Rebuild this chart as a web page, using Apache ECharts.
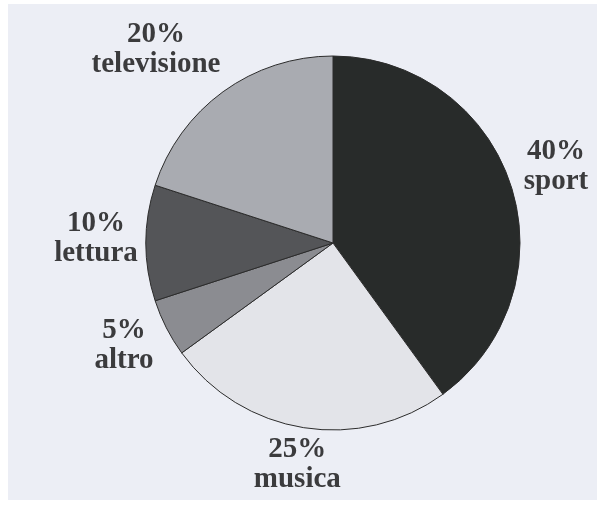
<!DOCTYPE html>
<html>
<head>
<meta charset="utf-8">
<script src="https://cdn.jsdelivr.net/npm/echarts@6/dist/echarts.min.js"></script>
<style>
  html, body { margin: 0; padding: 0; background: #ffffff; }
  #paper { position: absolute; left: 8px; top: 4px; width: 589px; height: 496px; background: #eceef5; }
  #main { position: absolute; left: 0; top: 0; width: 606px; height: 508px; }
</style>
</head>
<body>
<div id="paper"></div>
<div id="main"></div>
<script>
var categories = ["sport", "musica", "altro", "lettura", "televisione"];
var values = [40, 25, 5, 10, 20];
var colors = ["#282b2a", "#e3e4e9", "#8b8c91", "#545558", "#a9abb1"];

var cx = 333, cy = 243, R = 187, gap = 8;
// the printed labels are not all on the exact middle angle
var labelAngleShift = { televisione: 7 };

var total = values.reduce(function (a, b) { return a + b; }, 0);
var cum = [];
values.reduce(function (acc, v, i) { cum[i] = acc; return acc + v; }, 0);

// distance from the pie centre to the nearest point of a w*h box centred at (x, y)
function nearest(x, y, w, h) {
  var nx = Math.max(Math.abs(x) - w / 2, 0);
  var ny = Math.max(Math.abs(y) - h / 2, 0);
  return Math.sqrt(nx * nx + ny * ny);
}

var chartDom = document.getElementById("main");
var myChart = echarts.init(chartDom);
var option;

option = {
  backgroundColor: "transparent",
  animation: false,
  series: [
    {
      type: "pie",
      center: [cx, cy],
      radius: R,
      startAngle: 90,
      clockwise: true,
      data: categories.map(function (name, i) {
        return { name: name, value: values[i], itemStyle: { color: colors[i] } };
      }),
      itemStyle: {
        borderColor: "#2b2b2b",
        borderWidth: 1,
      },
      label: {
        show: true,
        position: "inside",
        formatter: "{c}%\n{b}",
        fontFamily: "Liberation Serif",
        fontWeight: "bold",
        fontSize: 29,
        lineHeight: 30,
        color: "#3b3b3d",
      },
      labelLine: { show: false },
      // move each label just outside its slice, along the middle angle
      labelLayout: function (p) {
        var i = p.dataIndex;
        var deg = 90 - (cum[i] + values[i] / 2) / total * 360 + (labelAngleShift[categories[i]] || 0);
        var a = deg * Math.PI / 180;
        var ux = Math.cos(a), uy = -Math.sin(a);
        var w = p.labelRect.width, h = p.labelRect.height;
        var d = R;
        while (nearest(ux * d, uy * d, w, h) < R + gap) d += 0.5;
        return { x: cx + ux * d, y: cy + uy * d - 4, align: "center", verticalAlign: "middle" };
      },
      emphasis: { disabled: true },
    },
  ],
};

option && myChart.setOption(option, true);
</script>
</body>
</html>
